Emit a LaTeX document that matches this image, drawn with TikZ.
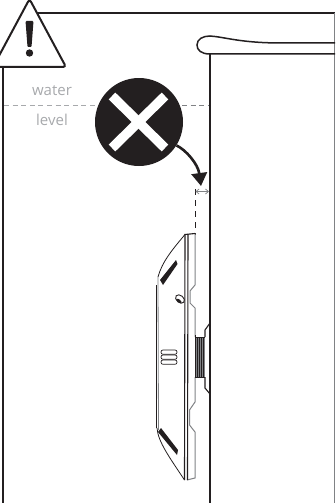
\documentclass[tikz,border=0pt]{standalone}
\usepackage{fontspec}
\setmainfont{Open Sans}
\usepackage{tikz}
\usetikzlibrary{arrows.meta,positioning,calc}
\definecolor{ink}{HTML}{231F20}
\definecolor{mist}{HTML}{A7A9AC}
\definecolor{slate}{HTML}{808285}
\tikzset{
  wall/.style={draw=ink,line width=2pt},
  plate/.style={draw=slate,line width=1pt},
  spine/.style={draw=ink,line width=1.1pt},
  slash/.style={fill=ink,draw=none},
  levellabel/.style={text=mist,font=\fontsize{15}{17}\selectfont,inner sep=0pt},
  ventslot/.style={draw=ink,line width=0.7pt,rounded corners=2pt}
}

\begin{document}
\begin{tikzpicture}[x=1pt,y=-1pt]
        \useasboundingbox (0,0) rectangle (335,503);
        % tank
        \draw[wall] (3,60) -- (3,503);
        \draw[wall] (30,13) -- (335,13);
        \draw[draw=slate,line width=1pt] (334.5,13) -- (334.5,503);
        \draw[wall] (210,54) -- (210,503);
        \draw[wall,line width=1.5pt] (335,54) -- (210,54)
          .. controls (201,54) and (197,50) .. (197,45)
          .. controls (197,39) and (203,36) .. (210,36)
          .. controls (225,37) and (240,43) .. (282,43) -- (335,43);
        % water line
        \draw[draw=mist,line width=0.8pt,dash pattern=on 5pt off 3.6pt] (4,105.5) -- (97,105.5);
        \draw[draw=slate,line width=0.8pt,dash pattern=on 5pt off 3.6pt] (182,105.5) -- (209,105.5);
        \node[levellabel] (waterlabel) at (52,90.5) {water};
        \node[levellabel] (levellabel) at (52,120) {level};
        % warning sign
        \draw[wall,fill=white,rounded corners=3pt] (29.5,-1) -- (66,67) -- (-7,67) -- cycle;
        \fill[ink,rounded corners=1pt] (25.5,21) -- (33.5,21) -- (31.5,47) -- (27.5,47) -- cycle;
        \fill[ink] (29.5,53) circle (3.7);
        % forbidden mark
        \node[circle,fill=ink,minimum size=88pt,inner sep=0pt] (crossmark) at (139,122) {};
        \draw[white,line width=9.5pt] (112,96) -- (165,148);
        \draw[white,line width=9.5pt] (165,96) -- (112,148);
        \coordinate (gaptip) at (201,186);
        \draw[draw=ink,line width=2.6pt,-{Triangle[length=13pt,width=15.5pt]}] (crossmark.-32)
          .. controls (186,150) and (198,164) .. (gaptip);
        % gap
        \coordinate (gapleft) at (195.5,191.5);
        \coordinate (gapright) at (209,191.5);
        \draw[draw=ink,line width=0.9pt,dash pattern=on 6pt off 5pt] (195,189) -- (195,235);
        \draw[draw=slate,line width=0.7pt,{Straight Barb[length=3pt,width=5pt]}-{Straight Barb[length=3pt,width=5pt]}] (gapleft) -- (gapright);
        % bracket on wall
        \draw[plate] (195,233.5) -- (195,285) -- (190,291) -- (190,303) -- (195,308) -- (195,337);
        \draw[plate] (195,377) -- (195,402) -- (189.5,410) -- (189.5,425) -- (195,432) -- (195,478) -- (187,480);
        \draw[spine] (210,323) -- (205,330) -- (205,337);
        \draw[spine] (205,377) -- (205,388) -- (210,394);
        % thread
        \fill[slate] (196,337) rectangle (205,377);
        \foreach \threadx in {197.5,199.5,201.5,203.5}
          \draw[draw=ink,line width=0.6pt] (\threadx,337) -- (\threadx,377);
        \draw[draw=ink,line width=1.5pt] (195.5,335) -- (195.5,377.5) -- (205,377.5);
        \draw[draw=ink,line width=1pt] (195.5,337) -- (205,337);
        % housing
        \draw[spine] (195,233.5) -- (185,234.5) -- (184.5,480) (188,234.5) -- (187.5,480);
        \draw[spine,line width=0.8pt] (185,234.5) .. controls (172,250) and (162,262) .. (158,277);
        \draw[plate,line width=0.8pt] (158,277) -- (158.5,430);
        \draw[draw=ink,line width=1.4pt] (156.7,285) -- (156.7,428);
        \draw[spine,line width=0.8pt] (157,428) .. controls (158,442) and (170,458) .. (184.5,480);
        % slashes
        \fill[slash] (176,260) -- (177.5,264) -- (163,285) -- (160,280) -- cycle;
        \fill[slash] (161,428) -- (158,432) -- (177,455) -- (178,450) -- cycle;
        % screw
        \draw[draw=ink,line width=0.9pt,rotate around={-40:(180,299)}] (180,299) ellipse (5 and 3.5);
        \fill[ink,rotate around={-40:(179,301)}] (179,301) ellipse (3 and 1.5);
        % vent
        \foreach \venty in {350,355,360}
          \draw[ventslot] (161,\venty) rectangle (177,\venty+4.3);
      \end{tikzpicture}
\end{document}
